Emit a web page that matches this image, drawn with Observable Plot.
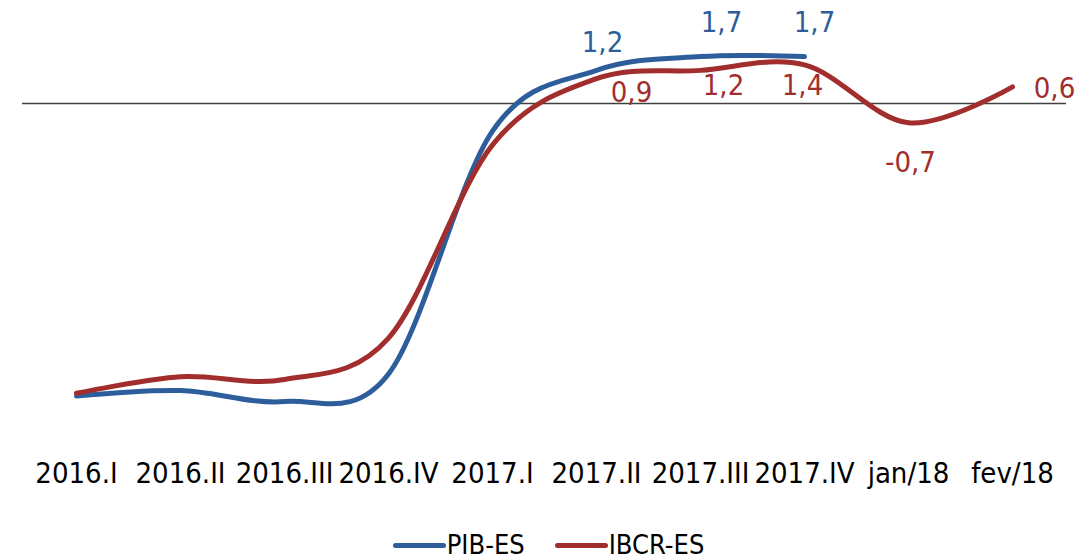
<!DOCTYPE html>
<html>
<head>
<meta charset="utf-8">
<script src="https://cdn.jsdelivr.net/npm/d3@7"></script>
<script src="https://cdn.jsdelivr.net/npm/@observablehq/plot@0.6"></script>
<style>
  html, body { margin: 0; padding: 0; background: #fff; }
  body { width: 1081px; font-family: "Liberation Sans Narrow", "Arial Narrow", "DejaVu Sans Condensed", sans-serif; }
  #chart svg { display: block; }
  #legend { display: flex; justify-content: center; align-items: center; margin-top: 33px; height: 24px; line-height: 24px; font-size: 27px; color: #000; padding-left: 16px; }
  #legend .item { display: flex; align-items: center; margin: 0 15px; }
  #legend .sw { width: 53px; height: 5px; border-radius: 3px; margin-right: 1px; }
</style>
</head>
<body>
<div id="chart"></div>
<div id="legend"></div>
<script>
const categories = ["2016.I", "2016.II", "2016.III", "2016.IV", "2017.I", "2017.II", "2017.III", "2017.IV", "jan/18", "fev/18"];
const pibValues = [-10.6, -10.4, -10.8, -9.8, -1.0, 1.2, 1.7, 1.7, null, null];
const ibcrValues = [-10.5, -9.9, -10.0, -8.5, -1.5, 0.9, 1.2, 1.4, -0.7, 0.6];
const seriesNames = ["PIB-ES", "IBCR-ES"];
const colors = ["#2d5e9b", "#a12e2c"];

const fmt = v => v.toFixed(1).replace(".", ",");
const pibRows = categories.map((c, i) => ({cat: c, v: pibValues[i], i})).filter(d => d.v != null);
const ibcrRows = categories.map((c, i) => ({cat: c, v: ibcrValues[i], i}));

const font = '"Liberation Sans Narrow", "Arial Narrow", "DejaVu Sans Condensed", sans-serif';

function label(rows, idx, color, dx, dy) {
  return Plot.text(rows.filter(d => d.i === idx), {
    x: "cat", y: "v", text: d => fmt(d.v), fill: color, dx, dy, fontSize: 29
  });
}

const chart = Plot.plot({
  width: 1081,
  height: 500,
  marginLeft: 22,
  marginRight: 15,
  marginTop: 47.8,
  marginBottom: 93.4,
  x: {type: "point", domain: categories, padding: 0.5, label: null},
  y: {domain: [-11, 2], axis: null},
  style: {fontFamily: font, fontSize: "29px", color: "#000", background: "#fff", overflow: "visible"},
  marks: [
    Plot.axisX({tickSize: 0, tickPadding: 55, fontSize: 29, label: null, fill: "#000"}),
    Plot.ruleY([0], {stroke: "#404040", strokeWidth: 1.5}),
    Plot.line(pibRows, {x: "cat", y: "v", curve: "cardinal", stroke: colors[0], strokeWidth: 5, strokeLinecap: "round"}),
    Plot.line(ibcrRows, {x: "cat", y: "v", curve: "cardinal", stroke: colors[1], strokeWidth: 5, strokeLinecap: "round"}),
    label(pibRows, 5, colors[0], 6, -28),
    label(pibRows, 6, colors[0], 21, -34),
    label(pibRows, 7, colors[0], 10, -34),
    label(ibcrRows, 5, colors[1], 35, 14),
    label(ibcrRows, 6, colors[1], 23, 15),
    label(ibcrRows, 7, colors[1], -2, 21),
    label(ibcrRows, 8, colors[1], 2, 40),
    label(ibcrRows, 9, colors[1], 42, 2)
  ]
});
document.getElementById("chart").appendChild(chart);

const legend = document.getElementById("legend");
seriesNames.forEach((name, k) => {
  const item = document.createElement("div");
  item.className = "item";
  const sw = document.createElement("div");
  sw.className = "sw";
  sw.style.background = colors[k];
  const t = document.createElement("span");
  t.textContent = name;
  item.appendChild(sw);
  item.appendChild(t);
  legend.appendChild(item);
});
</script>
</body>
</html>
